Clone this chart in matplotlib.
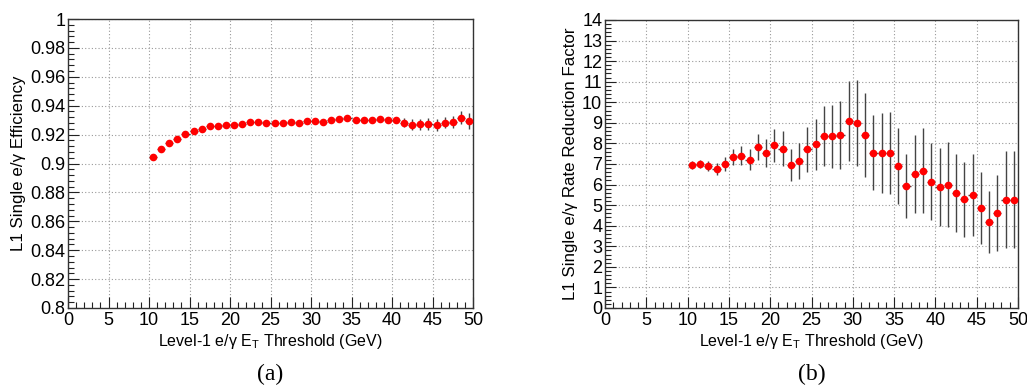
import numpy as np
import matplotlib
matplotlib.use("Agg")
import matplotlib.pyplot as plt
from matplotlib.ticker import MultipleLocator, FormatStrFormatter

# ---------------- data ----------------
thresholds = [10.5 + i for i in range(40)]

eff = [0.9048, 0.9097, 0.9140, 0.9168, 0.9202, 0.9225, 0.9241, 0.9257, 0.9262, 0.9267,
       0.9267, 0.9274, 0.9285, 0.9287, 0.9280, 0.9280, 0.9280, 0.9285, 0.9280, 0.9292,
       0.9294, 0.9287, 0.9303, 0.9310, 0.9315, 0.9303, 0.9303, 0.9303, 0.9306, 0.9303,
       0.9301, 0.9283, 0.9269, 0.9271, 0.9274, 0.9267, 0.9283, 0.9287, 0.9317, 0.9297]
eff_err = [0.0012, 0.0012, 0.0012, 0.0012, 0.0012, 0.0012, 0.0012, 0.0012, 0.0015, 0.0015,
           0.0015, 0.0015, 0.0015, 0.0015, 0.0015, 0.0015, 0.0015, 0.0015, 0.0015, 0.0015,
           0.0020, 0.0020, 0.0020, 0.0020, 0.0020, 0.0020, 0.0020, 0.0020, 0.0020, 0.0020,
           0.0022, 0.0030, 0.0040, 0.0040, 0.0040, 0.0040, 0.0040, 0.0040, 0.0045, 0.0055]

rrf = [6.95, 7.00, 6.90, 6.76, 7.02, 7.35, 7.40, 7.21, 7.82, 7.52,
       7.90, 7.74, 6.94, 7.13, 7.71, 7.95, 8.35, 8.34, 8.39, 9.10,
       9.00, 8.40, 7.55, 7.55, 7.52, 6.92, 5.94, 6.52, 6.68, 6.13,
       5.87, 6.00, 5.58, 5.29, 5.50, 4.84, 4.18, 4.60, 5.27, 5.27]
rrf_err = [0.18, 0.20, 0.26, 0.28, 0.34, 0.40, 0.47, 0.50, 0.63, 0.68,
           0.79, 0.85, 0.77, 0.87, 1.08, 1.22, 1.47, 1.53, 1.65, 1.95,
           2.10, 2.05, 1.82, 1.95, 2.00, 1.85, 1.55, 1.90, 2.05, 1.87,
           1.90, 2.05, 1.90, 1.82, 2.00, 1.75, 1.52, 1.85, 2.37, 2.37]
bin_half = 0.5

xlabel = "Level-1 e/\u03b3 E$_\\mathregular{T}$ Threshold (GeV)"
ylabel_a = "L1 Single e/\u03b3 Efficiency"
ylabel_b = "L1 Single e/\u03b3 Rate Reduction Factor"

# ---------------- style ----------------
plt.rcParams['font.family'] = ['Liberation Sans', 'DejaVu Sans']
plt.rcParams['mathtext.fontset'] = 'custom'
plt.rcParams['mathtext.rm'] = 'Liberation Sans'

fig = plt.figure(figsize=(10.27, 3.92), dpi=100)
W, H = 1027, 392
ax_a = fig.add_axes([68 / W, 1 - 308 / H, (473 - 68) / W, (308 - 19) / H])
ax_b = fig.add_axes([605 / W, 1 - 308 / H, (1018 - 605) / W, (308 - 20) / H])


def style(ax, ymin, ymax, ymaj, ymin_step, fmt):
    ax.set_xlim(0, 50)
    ax.set_ylim(ymin, ymax)
    ax.xaxis.set_major_locator(MultipleLocator(5))
    ax.xaxis.set_minor_locator(MultipleLocator(1))
    ax.yaxis.set_major_locator(MultipleLocator(ymaj))
    ax.yaxis.set_minor_locator(MultipleLocator(ymin_step))
    ax.yaxis.set_major_formatter(FormatStrFormatter(fmt))
    ax.tick_params(which='both', direction='in', top=False, right=False,
                   color='#222222', width=0.8)
    ax.tick_params(which='major', length=8, labelsize=13, pad=2)
    ax.tick_params(axis='x', which='major', pad=3)
    ax.tick_params(which='minor', length=4)
    ax.grid(True, which='major', linestyle=(0, (1, 2)), color='#999999', linewidth=0.8)
    ax.set_axisbelow(True)
    for s in ax.spines.values():
        s.set_linewidth(1.0)
        s.set_color('#333333')
    ax.set_xlabel(xlabel, fontsize=11.5, labelpad=2)


style(ax_a, 0.8, 1.0, 0.02, 0.004, '%g')
style(ax_b, 0, 14, 1, 0.2, '%g')

for ax, y, yerr in ((ax_a, eff, eff_err), (ax_b, rrf, rrf_err)):
    ax.errorbar(thresholds, y, yerr=yerr, xerr=bin_half, fmt='o', color='red',
                markersize=5.5, markeredgewidth=0, ecolor='#444444', elinewidth=1.0,
                capsize=1.5, capthick=1.0, zorder=3)

ax_a.set_ylabel(ylabel_a, fontsize=12.2, labelpad=3)
ax_b.set_ylabel(ylabel_b, fontsize=12.2, labelpad=3)

fig.text(270 / W, 1 - 374 / H, "(a)", fontsize=17, family='Liberation Serif',
         ha='center', va='center')
fig.text(812 / W, 1 - 374 / H, "(b)", fontsize=17, family='Liberation Serif',
         ha='center', va='center')

fig.savefig("out.png", dpi=100)
